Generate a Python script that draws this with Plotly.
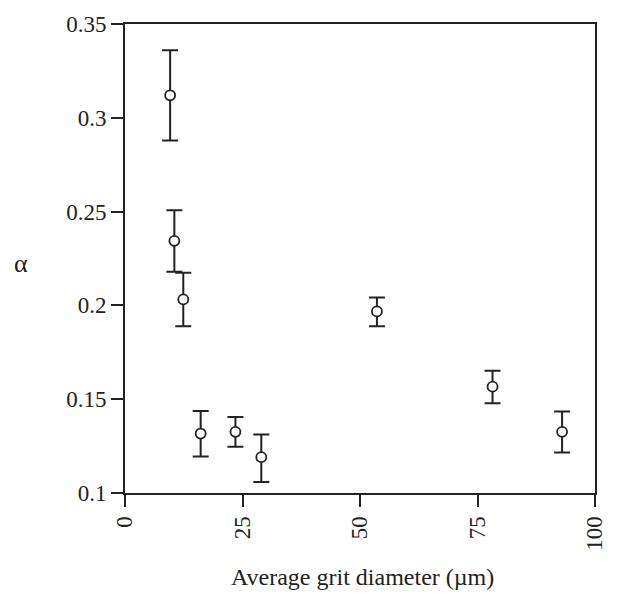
import plotly.graph_objects as go

grit_diameter = [9.6, 10.5, 12.4, 16.1, 23.5, 29.0, 53.6, 78.2, 93.0]
alpha_mean = [0.312, 0.2344, 0.2032, 0.1317, 0.1326, 0.1191, 0.1968, 0.1567, 0.1326]
alpha_upper = [0.3360, 0.2507, 0.2174, 0.1437, 0.1405, 0.1312, 0.2042, 0.1651, 0.1435]
alpha_lower = [0.2879, 0.2179, 0.1889, 0.1195, 0.1247, 0.1059, 0.1889, 0.1479, 0.1216]

x_ticks = [0, 25, 50, 75, 100]
y_ticks = [0.1, 0.15, 0.2, 0.25, 0.3, 0.35]
y_tick_labels = ["0.1", "0.15", "0.2", "0.25", "0.3", "0.35"]

err_plus = [u - m for u, m in zip(alpha_upper, alpha_mean)]
err_minus = [m - l for m, l in zip(alpha_mean, alpha_lower)]

INK = "#222222"
FONT = "Liberation Serif"

fig = go.Figure()
fig.add_trace(go.Scatter(
    x=grit_diameter, y=alpha_mean, mode="markers",
    marker=dict(symbol="circle", size=10, color="white",
                line=dict(color=INK, width=1.8)),
    error_y=dict(type="data", symmetric=False, array=err_plus,
                 arrayminus=err_minus, color=INK, thickness=2, width=8),
    showlegend=False,
))

axis_common = dict(
    showline=True, linecolor=INK, linewidth=2, mirror=True,
    ticks="outside", ticklen=12, tickwidth=2, tickcolor=INK,
    showgrid=False, zeroline=False,
    tickfont=dict(family=FONT, size=23, color=INK),
)

fig.update_xaxes(range=[0, 100], tickvals=x_ticks, ticktext=[str(t) for t in x_ticks],
                 tickangle=-90, **axis_common)
fig.update_yaxes(range=[0.1, 0.35], tickvals=y_ticks, ticktext=y_tick_labels,
                 **axis_common)

PLOT_L, PLOT_R, PLOT_T, PLOT_B = 125, 597, 17, 493

fig.update_layout(
    width=619, height=595,
    margin=dict(l=PLOT_L, r=619 - PLOT_R, t=PLOT_T, b=595 - PLOT_B),
    plot_bgcolor="white", paper_bgcolor="white",
    font=dict(family=FONT, color=INK),
    annotations=[
        dict(text="Average grit diameter (µm)", xref="paper", yref="paper",
             x=(364 - PLOT_L) / (PLOT_R - PLOT_L), y=(PLOT_B - 578) / (PLOT_B - PLOT_T),
             xanchor="center", yanchor="middle",
             showarrow=False, font=dict(family=FONT, size=24, color=INK)),
        dict(text="α", xref="paper", yref="paper",
             x=(21 - PLOT_L) / (PLOT_R - PLOT_L), y=(PLOT_B - 260) / (PLOT_B - PLOT_T),
             xanchor="center", yanchor="middle",
             showarrow=False, font=dict(family=FONT, size=26, color=INK)),
    ],
)

fig.write_html("out.html")
